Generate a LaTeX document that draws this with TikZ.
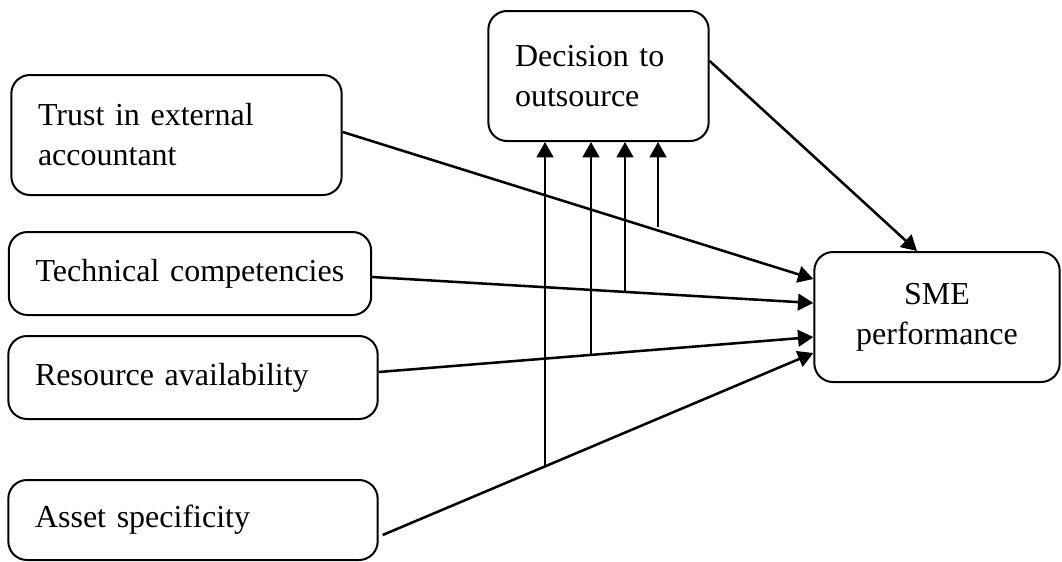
\documentclass[tikz,border=0pt]{standalone}
\usepackage{fontspec}
\setmainfont{Liberation Serif}
\usetikzlibrary{arrows.meta,calc}
\tikzset{
  box/.style={draw, line width=1.5pt, rounded corners=14pt, inner xsep=20pt, inner ysep=0pt,
    font=\fontsize{24}{30}\selectfont},
  link/.style={line width=1.9pt, -{Triangle[length=11.5pt,width=12.5pt]}},
}
\begin{document}
\begin{tikzpicture}[x=0.75pt,y=-0.75pt]
\useasboundingbox (0,0) rectangle (1062,561);
\node[box, align=left, text width=207.75pt, minimum height=90pt] (trust) at (176.5,135) {Trust in external\\accountant};
\node[box, align=left, text width=231.75pt, minimum height=62.25pt] (tech) at (190,273.5) {Technical competencies};
\node[box, align=left, text width=237pt, minimum height=62.25pt] (res) at (193,377.5) {Resource availability};
\node[box, align=left, text width=237pt, minimum height=60pt] (asset) at (193,520) {Asset specificity};
\node[box, align=left, text width=125.25pt, minimum height=97.5pt] (dec) at (598.5,76) {Decision to\\outsource};
\node[box, align=center, text width=144pt, minimum height=97.5pt] (sme) at (937,317) {SME\\performance};

\coordinate (m1) at (545,466);
\coordinate (m2) at (591,355);
\coordinate (m3) at (625,291);
\coordinate (m4) at (658,227);

\draw[link] (trust.east |- 0,132) -- (sme.west |- 0,279);
\draw[link] (tech.east |- 0,277) -- (sme.west |- 0,303);
\draw[link] (res.east |- 0,372) -- (sme.west |- 0,337);
\draw[link] ($(asset.east |- 0,535)+(4,0)$) -- (sme.west |- 0,353);
\draw[link] (dec.east |- 0,61) -- (sme.north -| 917,0);

\draw[link] (m1) -- (m1 |- dec.south);
\draw[link] (m2) -- (m2 |- dec.south);
\draw[link] (m3) -- (m3 |- dec.south);
\draw[link] (m4) -- (m4 |- dec.south);
\end{tikzpicture}
\end{document}
